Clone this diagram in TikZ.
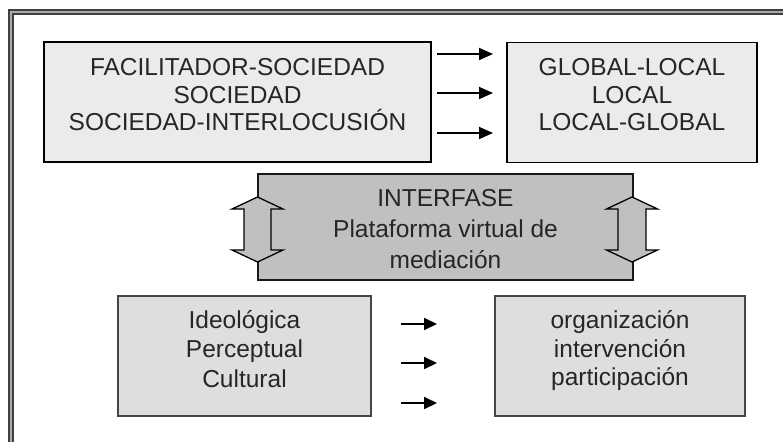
\documentclass[tikz,border=0pt]{standalone}
\usepackage{fontspec}
\setmainfont{Liberation Sans}
\usetikzlibrary{arrows.meta}
\definecolor{topfill}{HTML}{EBEBEB}
\definecolor{midfill}{HTML}{C0C0C0}
\definecolor{botfill}{HTML}{DEDEDE}
\definecolor{botdraw}{HTML}{454545}
\definecolor{framedark}{HTML}{404040}
\definecolor{framelight}{HTML}{A8A8A8}
\begin{document}
\begin{tikzpicture}[x=1pt,y=-1pt,
  topbox/.style={draw=black, line width=1.4pt, fill=topfill, minimum width=#1, minimum height=120pt, inner sep=0pt},
  midbox/.style={draw=black!90, line width=1.3pt, fill=midfill, minimum width=375pt, minimum height=106pt, inner sep=0pt},
  botbox/.style={draw=botdraw, line width=2pt, fill=botfill, minimum width=#1, minimum height=120pt, inner sep=0pt},
  txt/.style={align=center, inner sep=0pt, font=\fontsize{24.5}{#1}\selectfont, text=black!85},
  flow/.style={line width=1.8pt, -{Triangle[length=14pt,width=12pt]}},
  flowsmall/.style={line width=1.8pt, -{Triangle[length=13pt,width=12pt]}},
  darrow/.style={draw=black, line width=1.3pt, fill=midfill, line join=miter},
  frame/.style={draw=framedark, double=framelight, double distance=2pt, line width=2pt}
]
\useasboundingbox (0,0) rectangle (783,441);
\clip (0,0) rectangle (783,441);
\fill[white] (0,0) rectangle (783,441);
\draw[frame] (10.5,12) rectangle (820,480);

% boxes
\node[topbox=387pt] (tl) at (237.5,102) {};
\node[topbox=250pt] (tr) at (632,102.5) {};
\node[midbox] (mid) at (445.5,227) {};
\node[botbox=253pt] (bl) at (244.5,356) {};
\node[botbox=250pt] (br) at (620,356) {};

% texts
\node[txt=27.5pt] (tlt) at ([yshift=7pt]tl.center) {FACILITADOR-SOCIEDAD\\SOCIEDAD\\SOCIEDAD-INTERLOCUSIÓN};
\node[txt=27.5pt] (trt) at ([yshift=7.5pt]tr.center) {GLOBAL-LOCAL\\LOCAL\\LOCAL-GLOBAL};
\node[txt=31pt] (midt) at ([yshift=-2pt]mid.center) {INTERFASE\\Plataforma virtual de\\mediación};
\node[txt=29.5pt] (blt) at ([yshift=7pt]bl.center) {Ideológica\\Perceptual\\Cultural};
\node[txt=28.5pt] (brt) at ([yshift=5pt]br.center) {organización\\intervención\\participación};

% top arrows
\coordinate (ta1s) at (437,54);  \coordinate (ta1e) at (493,54);
\coordinate (ta2s) at (437,93);  \coordinate (ta2e) at (493,93);
\coordinate (ta3s) at (437,133); \coordinate (ta3e) at (493,133);
\draw[flow] (ta1s) -- (ta1e);
\draw[flow] (ta2s) -- (ta2e);
\draw[flow] (ta3s) -- (ta3e);

% bottom arrows
\coordinate (ba1s) at (401,324); \coordinate (ba1e) at (437,324);
\coordinate (ba2s) at (401,363); \coordinate (ba2e) at (437,363);
\coordinate (ba3s) at (401,403); \coordinate (ba3e) at (437,403);
\draw[flowsmall] (ba1s) -- (ba1e);
\draw[flowsmall] (ba2s) -- (ba2e);
\draw[flowsmall] (ba3s) -- (ba3e);

% double arrows
\coordinate (lda) at (257.5,197);
\draw[darrow] (lda) -- ++(25.5,12) -- ++(-12,0) -- ++(0,41) -- ++(12,0) -- ++(-25.5,12)
  -- ++(-25.5,-12) -- ++(12,0) -- ++(0,-41) -- ++(-12,0) -- cycle;
\coordinate (rda) at (632,197);
\draw[darrow] (rda) -- ++(25.5,12) -- ++(-11.5,0) -- ++(0,41) -- ++(11.5,0) -- ++(-25.5,12)
  -- ++(-25.5,-12) -- ++(11.5,0) -- ++(0,-41) -- ++(-11.5,0) -- cycle;
\end{tikzpicture}
\end{document}
